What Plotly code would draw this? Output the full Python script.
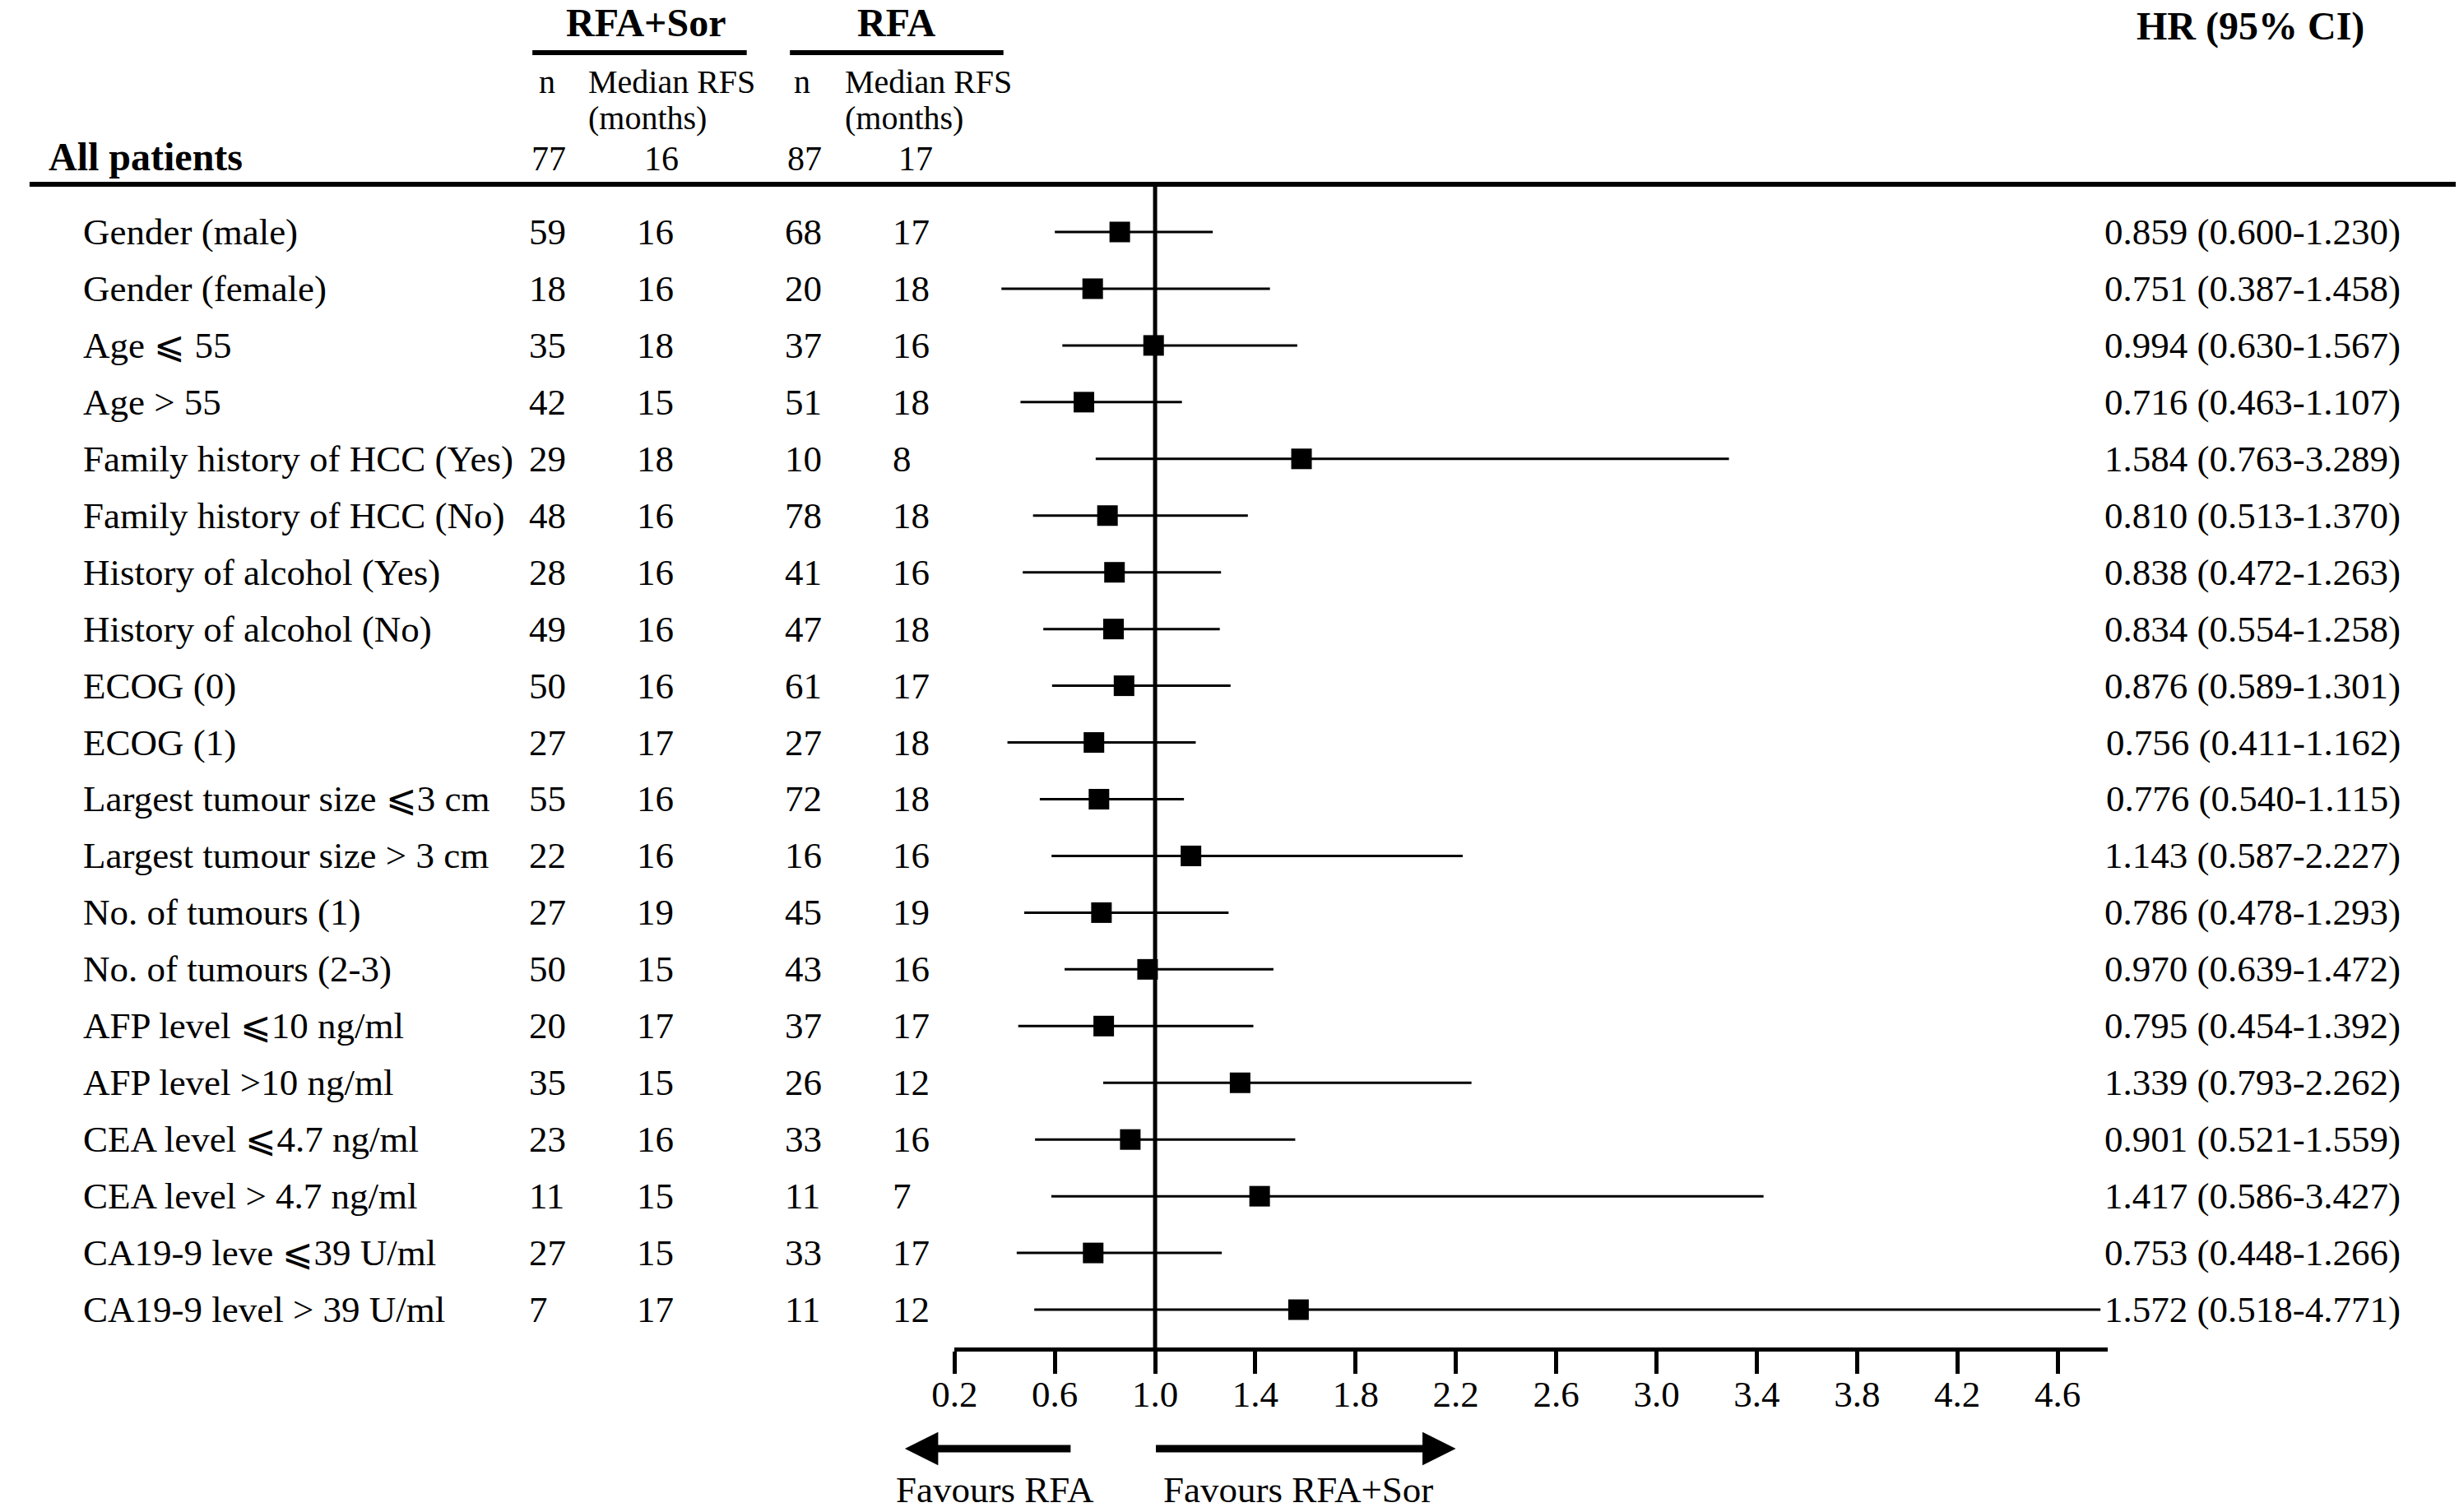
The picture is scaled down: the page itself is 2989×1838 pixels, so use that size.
import plotly.graph_objects as go

# ---------------- data ----------------
labels = [
    "Gender (male)", "Gender (female)", "Age ⩽ 55", "Age > 55",
    "Family history of HCC (Yes)", "Family history of HCC (No)",
    "History of alcohol (Yes)", "History of alcohol (No)",
    "ECOG (0)", "ECOG (1)",
    "Largest tumour size ⩽3 cm", "Largest tumour size > 3 cm",
    "No. of tumours (1)", "No. of tumours (2-3)",
    "AFP level ⩽10 ng/ml", "AFP level >10 ng/ml",
    "CEA level ⩽4.7 ng/ml", "CEA level > 4.7 ng/ml",
    "CA19-9 leve ⩽39 U/ml", "CA19-9 level > 39 U/ml",
]
n_sor = [59, 18, 35, 42, 29, 48, 28, 49, 50, 27, 55, 22, 27, 50, 20, 35, 23, 11, 27, 7]
med_sor = [16, 16, 18, 15, 18, 16, 16, 16, 16, 17, 16, 16, 19, 15, 17, 15, 16, 15, 15, 17]
n_rfa = [68, 20, 37, 51, 10, 78, 41, 47, 61, 27, 72, 16, 45, 43, 37, 26, 33, 11, 33, 11]
med_rfa = [17, 18, 16, 18, 8, 18, 16, 18, 17, 18, 18, 16, 19, 16, 17, 12, 16, 7, 17, 12]
hr = [0.859, 0.751, 0.994, 0.716, 1.584, 0.810, 0.838, 0.834, 0.876, 0.756,
      0.776, 1.143, 0.786, 0.970, 0.795, 1.339, 0.901, 1.417, 0.753, 1.572]
ci_lo = [0.600, 0.387, 0.630, 0.463, 0.763, 0.513, 0.472, 0.554, 0.589, 0.411,
         0.540, 0.587, 0.478, 0.639, 0.454, 0.793, 0.521, 0.586, 0.448, 0.518]
ci_hi = [1.230, 1.458, 1.567, 1.107, 3.289, 1.370, 1.263, 1.258, 1.301, 1.162,
         1.115, 2.227, 1.293, 1.472, 1.392, 2.262, 1.559, 3.427, 1.266, 4.771]
all_n_sor, all_med_sor, all_n_rfa, all_med_rfa = 77, 16, 87, 17
tick_vals = [0.2, 0.6, 1.0, 1.4, 1.8, 2.2, 2.6, 3.0, 3.4, 3.8, 4.2, 4.6]
tick_text = ["%.1f" % v for v in tick_vals]
x_range = [0.2, 4.8]

# ---------------- layout helpers ----------------
W, H = 2989, 1838
def px(x):
    return x / W
def py(y):
    return 1 - y / H

FONT = "Liberation Serif, 'Times New Roman', 'Noto Sans CJK SC', 'DejaVu Serif', serif"
BODY = 45
HEAD = 40
BOLD = 48

rows = list(range(1, len(labels) + 1))
row0, row_step = 282.0, 68.95
top_px, axis_px = 224.0, 1638.0
y_top = 1 + (top_px - row0) / row_step
y_bot = 1 + (axis_px - row0) / row_step

fig = go.Figure()

err_plus = [h - m for h, m in zip(ci_hi, hr)]
err_minus = [m - l for m, l in zip(hr, ci_lo)]
fig.add_trace(go.Scatter(
    x=hr, y=rows, mode="markers",
    marker=dict(symbol="square", size=25, color="black"),
    error_x=dict(type="data", symmetric=False, array=err_plus, arrayminus=err_minus,
                 thickness=3, width=0, color="black"),
    showlegend=False, hoverinfo="skip",
))

ann = []
def T(text, x, y, size=BODY, xanchor="left", yref="y", bold=False, yanchor="middle"):
    ann.append(dict(text=("<b>%s</b>" % text) if bold else text,
                    x=x, y=y, xref="paper", yref=yref, xanchor=xanchor, yanchor=yanchor,
                    showarrow=False, borderpad=0, borderwidth=0,
                    font=dict(family=FONT, size=size, color="black")))

for r, lab, a, b, c, d, h, lo, hi in zip(rows, labels, n_sor, med_sor, n_rfa, med_rfa, hr, ci_lo, ci_hi):
    T(lab, px(74), r)
    T(str(a), px(621), r)
    T(str(b), px(753), r)
    T(str(c), px(935), r)
    T(str(d), px(1067), r)
    T("%.3f (%.3f-%.3f)" % (h, lo, hi), px(2917), r, xanchor="right")

# header
T("RFA+Sor", px(764), py(28), size=BOLD, xanchor="center", yref="paper", bold=True)
T("RFA", px(1072), py(28), size=BOLD, xanchor="center", yref="paper", bold=True)
T("HR (95% CI)", px(2733), py(32), size=BOLD, xanchor="center", yref="paper", bold=True)
T("n", px(643), py(100), size=HEAD, xanchor="center", yref="paper")
T("Median RFS", px(693), py(100), size=HEAD, yref="paper")
T("(months)", px(693), py(144), size=HEAD, yref="paper")
T("n", px(956), py(100), size=HEAD, xanchor="center", yref="paper")
T("Median RFS", px(1008), py(100), size=HEAD, yref="paper")
T("(months)", px(1008), py(144), size=HEAD, yref="paper")
T("All patients", px(31), py(190), size=BOLD, yref="paper", bold=True)
T(str(all_n_sor), px(624), py(193), size=42, yref="paper")
T(str(all_med_sor), px(762), py(193), size=42, yref="paper")
T(str(all_n_rfa), px(938), py(193), size=42, yref="paper")
T(str(all_med_rfa), px(1074), py(193), size=42, yref="paper")

# favours labels & arrows
T("Favours RFA", px(1193), py(1836), xanchor="center", yref="paper", yanchor="bottom")
T("Favours RFA+Sor", px(1565), py(1836), xanchor="center", yref="paper", yanchor="bottom")
for tip, tail in [(1082, 1285), (1758, 1392)]:
    ann.append(dict(text="", x=px(tip), y=py(1761), xref="paper", yref="paper",
                    ax=tail - tip, ay=0, axref="pixel", ayref="pixel",
                    showarrow=True, arrowhead=2, arrowsize=0.9, arrowwidth=9,
                    arrowcolor="black", standoff=0, startstandoff=0))

shapes = [
    dict(type="line", xref="paper", yref="paper", x0=px(8), x1=px(2985), y0=py(224), y1=py(224),
         line=dict(color="black", width=6)),
    dict(type="line", xref="paper", yref="paper", x0=px(625), x1=px(888), y0=py(64), y1=py(64),
         line=dict(color="black", width=6)),
    dict(type="line", xref="paper", yref="paper", x0=px(941), x1=px(1203), y0=py(64), y1=py(64),
         line=dict(color="black", width=6)),
    dict(type="line", xref="x", yref="y domain", x0=1.0, x1=1.0, y0=0, y1=1,
         line=dict(color="black", width=5)),
]

xaxis = dict(domain=[px(1143), px(2558)], range=x_range, tickvals=tick_vals, ticktext=tick_text,
             ticks="outside", ticklen=27, tickwidth=5, tickcolor="black",
             showline=True, linewidth=5, linecolor="black", showgrid=False, zeroline=False,
             tickfont=dict(family=FONT, size=BODY, color="black"), fixedrange=True)
try:
    go.layout.XAxis(ticklabelstandoff=-14)
    xaxis["ticklabelstandoff"] = -14
except Exception:
    xaxis["ticklabelstandoff"] = 0

fig.update_layout(
    width=W, height=H, margin=dict(l=0, r=0, t=0, b=0),
    paper_bgcolor="white", plot_bgcolor="white",
    annotations=ann, shapes=shapes, showlegend=False,
    xaxis=xaxis,
    yaxis=dict(domain=[py(axis_px), py(top_px)], range=[y_bot, y_top], showgrid=False,
               zeroline=False, showline=False, showticklabels=False, ticks="", fixedrange=True),
)

fig.write_html("out.html", config={"displayModeBar": False},
               post_script="document.body.style.margin='0';document.body.style.overflow='hidden';")
